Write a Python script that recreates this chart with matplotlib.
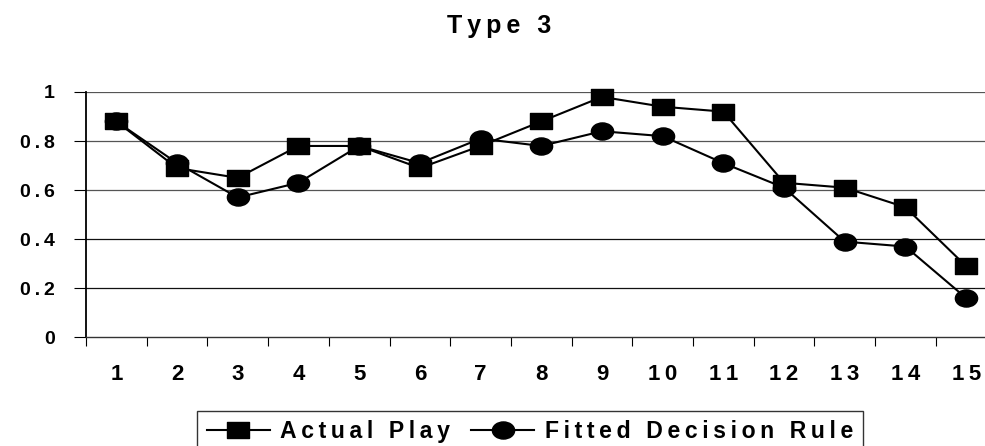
import matplotlib
matplotlib.use('Agg')
import matplotlib.pyplot as plt
from matplotlib.path import Path
from matplotlib.ticker import FixedLocator, NullFormatter

categories = list(range(1, 16))
actual_play = [0.88, 0.69, 0.65, 0.78, 0.78, 0.69, 0.78, 0.88, 0.98, 0.94, 0.92, 0.63, 0.61, 0.53, 0.29]
fitted_rule = [0.88, 0.71, 0.57, 0.63, 0.78, 0.71, 0.81, 0.78, 0.84, 0.82, 0.71, 0.61, 0.39, 0.37, 0.16]
y_ticks = [0, 0.2, 0.4, 0.6, 0.8, 1]
y_tick_labels = ['0', '0.2', '0.4', '0.6', '0.8', '1']
title = 'Type 3'
series_names = ['Actual Play', 'Fitted Decision Rule']

FAM = ['Liberation Sans', 'DejaVu Sans']
plt.rcParams['font.family'] = FAM
TS = '\u2009'


def spaced(s):
    return TS.join(s)


W, H = 985, 446
fig = plt.figure(figsize=(W / 100, H / 100), dpi=100)

left_px, right_px = 86, 86 + 15 * 60.7
top_px, bot_px = 92, 337.3
ax = fig.add_axes([left_px / W, 1 - bot_px / H, (right_px - left_px) / W, (bot_px - top_px) / H])

# wide markers (the reference is horizontally stretched)
rect = Path([(-1.45, -1), (1.45, -1), (1.45, 1), (-1.45, 1), (-1.45, -1)],
            [Path.MOVETO, Path.LINETO, Path.LINETO, Path.LINETO, Path.CLOSEPOLY])
circ = Path.unit_circle()
ell = Path(circ.vertices * [1.3, 1.0], circ.codes)

ax.plot(categories, actual_play, color='black', lw=1.5, marker=rect, ms=16,
        mfc='black', mec='black', label=spaced(series_names[0]), zorder=3, clip_on=False)
ax.plot(categories, fitted_rule, color='black', lw=1.5, marker=ell, ms=16,
        mfc='black', mec='black', label=spaced(series_names[1]), zorder=3, clip_on=False)

ax.set_xlim(0.5, 15.5)
ax.set_ylim(0, 1)

# gridlines
for yv in y_ticks[1:]:
    ax.axhline(yv, color='#555555' if yv >= 0.6 else '#111111', lw=0.9, zorder=1)

ax.spines['top'].set_visible(False)
ax.spines['right'].set_visible(False)
ax.spines['left'].set_linewidth(1.3)
ax.spines['bottom'].set_linewidth(1.0)
ax.spines['bottom'].set_color('#333333')

ax.set_yticks(y_ticks)
ax.set_yticklabels([spaced(t) for t in y_tick_labels], fontsize=14, fontweight='bold')
ax.tick_params(axis='y', direction='out', length=8.5, width=0.8, pad=14)

ax.xaxis.set_major_locator(FixedLocator([c - 0.5 for c in categories] + [categories[-1] + 0.5]))
ax.xaxis.set_major_formatter(NullFormatter())
ax.xaxis.set_minor_locator(FixedLocator(categories))
ax.set_xticklabels([spaced(str(c)) for c in categories], minor=True, fontsize=16, fontweight='bold')
ax.tick_params(axis='x', which='major', direction='out', length=6.5, width=0.8)
ax.tick_params(axis='x', which='minor', length=0, pad=19)

fig.text(499 / W, 1 - 33 / H, spaced(title), ha='center', va='baseline',
         fontsize=18, fontweight='bold')

leg = fig.legend(loc='upper left', bbox_to_anchor=(197 / W, 1 - 410.7 / H), ncol=2,
                 frameon=True, fancybox=False, edgecolor='black', borderaxespad=0,
                 prop={'size': 16.6, 'weight': 'bold', 'family': FAM},
                 handlelength=2.75, handletextpad=0.45, columnspacing=0.9,
                 borderpad=0.42)
leg.get_frame().set_linewidth(1.0)

fig.savefig('out.png', dpi=100)
